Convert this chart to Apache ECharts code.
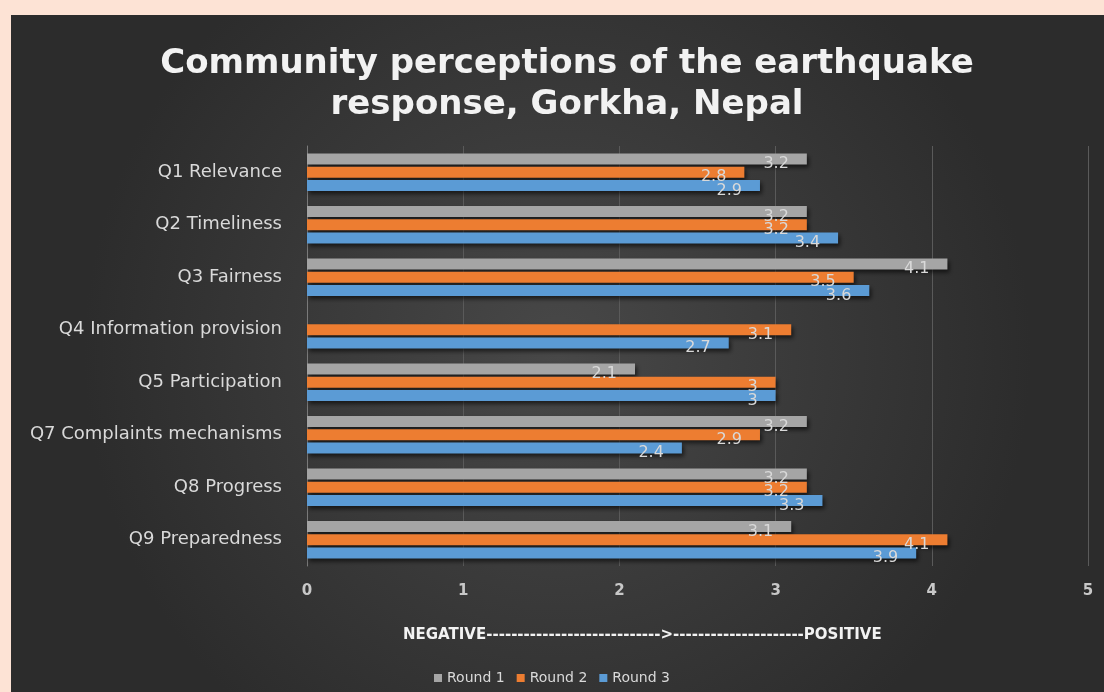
<!DOCTYPE html>
<html><head><meta charset="utf-8">
<script src="https://cdn.jsdelivr.net/npm/echarts@6/dist/echarts.min.js"></script>
<style>html,body{margin:0;padding:0;background:#fde3d5;}#c{width:1104px;height:692px;}</style>
</head><body><div id="c"></div>
<script>
const categories = ['Q1 Relevance','Q2 Timeliness','Q3 Fairness','Q4 Information provision','Q5 Participation','Q7 Complaints mechanisms','Q8 Progress','Q9 Preparedness'];
const round1 = [3.2, 3.2, 4.1, null, 2.1, 3.2, 3.2, 3.1];
const round2 = [2.8, 3.2, 3.5, 3.1, 3, 2.9, 3.2, 4.1];
const round3 = [2.9, 3.4, 3.6, 2.7, 3, 2.4, 3.3, 3.9];
const seriesNames = ['Round 1','Round 2','Round 3'];
const seriesColors = ['#a5a5a5','#ed7d31','#5b9bd5'];
const xTicks = [0,1,2,3,4,5];
const axisTitle = 'NEGATIVE---------------------------->---------------------POSITIVE';

const chart = echarts.init(document.getElementById('c'));
const font = '"DejaVu Sans", sans-serif';
function mk(i, data){
  return {
    name: seriesNames[i], type:'bar', data:data,
    barWidth: 11, barGap: '20%',
    itemStyle:{color:seriesColors[i], shadowColor:'rgba(0,0,0,0.6)', shadowBlur:4, shadowOffsetX:2, shadowOffsetY:3},
    label:{show:true, position:'insideRight', offset:[-13,5], color:'#d9d9d9', fontFamily:font, fontSize:16,
      formatter:p=>p.value==null?'':String(p.value)},
    z: 3
  };
}
chart.setOption({
  backgroundColor:'#fde3d5',
  graphic:[{type:'rect', shape:{x:11,y:15,width:1093,height:677}, z:-10,
    style:{fill:new echarts.graphic.RadialGradient(0.5,0.5,0.7,[{offset:0,color:'#484848'},{offset:1,color:'#2c2c2c'}])}},
    {type:'text', left:403, top:628, z:5, style:{text:axisTitle, fill:'#f2f2f2', font:'bold 15px '+font}}
  ],
  title:{text:'Community perceptions of the earthquake\nresponse, Gorkha, Nepal', left:562, top:39, textAlign:'center',
    textStyle:{color:'#f2f2f2', fontFamily:font, fontWeight:'bold', fontSize:34, lineHeight:41}},
  legend:{data:seriesNames, bottom:2, left:'center', itemWidth:8, itemHeight:8, itemGap:12, icon:'rect',
    textStyle:{color:'#d9d9d9', fontFamily:font, fontSize:14}},
  grid:{left:307, right:16, top:146, bottom:126},
  xAxis:{type:'value', min:0, max:5, interval:1,
    axisLabel:{color:'#c8c8c8', fontFamily:font, fontSize:15, fontWeight:'bold', margin:18},
    axisLine:{show:false}, axisTick:{show:false},
    splitLine:{lineStyle:{color:'#5a5a5a', width:1}}},
  yAxis:{type:'category', data:categories, inverse:true,
    axisLabel:{color:'#d9d9d9', fontFamily:font, fontSize:18, margin:25},
    axisLine:{show:true, lineStyle:{color:'#7a7a7a'}}, axisTick:{show:false}},
  series:[mk(0,round1), mk(1,round2), mk(2,round3)]
});
</script></body></html>
